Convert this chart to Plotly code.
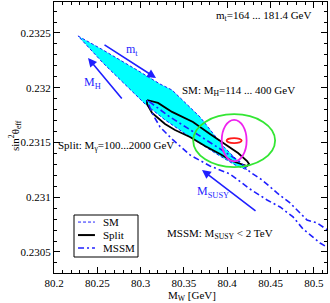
import plotly.graph_objects as go

# ---- data (M_W [GeV], sin^2 theta_eff) ----
sm_mw = [80.2277, 80.2566, 80.2958, 80.3224, 80.3363, 80.3686, 80.3952, 80.4148, 80.4229,
         80.4090, 80.3859, 80.3570, 80.3282, 80.3051, 80.2762, 80.2566, 80.2277]
sm_sw = [0.232473, 0.232345, 0.232162, 0.232034, 0.231979, 0.231733, 0.231468, 0.231313, 0.231249,
         0.231295, 0.231404, 0.231550, 0.231706, 0.231852, 0.232071, 0.232226, 0.232473]

split_mw = [80.3074, 80.3201, 80.3363, 80.3605, 80.3801, 80.3940, 80.4125, 80.4229, 80.4252,
            80.4229, 80.4055, 80.3917, 80.3744, 80.3570, 80.3397, 80.3282, 80.3132, 80.3074, 80.3074]
split_sw = [0.231888, 0.231861, 0.231779, 0.231687, 0.231578, 0.231505, 0.231404, 0.231331, 0.231304,
            0.231285, 0.231331, 0.231395, 0.231468, 0.231550, 0.231614, 0.231669, 0.231769, 0.231852, 0.231888]

mssm_mw = [80.5245, 80.5152, 80.5037, 80.4921, 80.4841, 80.4725, 80.4575, 80.4402, 80.4263, 80.4148,
           80.3975, 80.3686, 80.3339, 80.3074,
           80.3132, 80.3224, 80.3374, 80.3570, 80.3801, 80.4032, 80.4263, 80.4460, 80.4610, 80.4760,
           80.4875, 80.5072, 80.5245]
mssm_sw = [0.230655, 0.230701, 0.230765, 0.230792, 0.230856, 0.230948, 0.231039, 0.231158, 0.231231, 0.231322,
           0.231413, 0.231559, 0.231733, 0.231888,
           0.231769, 0.231642, 0.231523, 0.231386, 0.231285, 0.231212, 0.231075, 0.230975, 0.230911, 0.230820,
           0.230710, 0.230582, 0.230500]

# experimental ellipses: centre and half-axes
exp_center = (80.408, 0.231517)
ellipses = [  # (dMW, dsw, colour)
    (0.0473, 0.000242, "#33e633"),
    (0.0144, 0.000190, "#ee22ee"),
    (0.0087, 0.000023, "#ff1a1a"),
]

# arrows: (x_tail, y_tail, x_head, y_head)
arrows = [
    (80.2566, 0.232400, 80.3178, 0.232089),   # m_t
    (80.2797, 0.231888, 80.2393, 0.232272),   # M_H
    (80.4344, 0.230865, 80.3709, 0.231249),   # M_SUSY
]

BLUE = "#1f1fff"
FONT = "Liberation Serif, Times New Roman, serif"

fig = go.Figure()

fig.add_trace(go.Scatter(x=sm_mw, y=sm_sw, mode="lines", fill="toself",
                         fillcolor="#00ffff", line=dict(color=BLUE, width=1, dash="3px,2px"),
                         showlegend=False, hoverinfo="skip"))
fig.add_trace(go.Scatter(x=split_mw, y=split_sw, mode="lines",
                         line=dict(color="black", width=1.8), showlegend=False))
fig.add_trace(go.Scatter(x=mssm_mw, y=mssm_sw, mode="lines",
                         line=dict(color=BLUE, width=1.6, dash="6px,3px,2px,3px"), showlegend=False))

shapes = []
for dx, dy, col in ellipses:
    shapes.append(dict(type="circle", xref="x", yref="y",
                       x0=exp_center[0] - dx, x1=exp_center[0] + dx,
                       y0=exp_center[1] - dy, y1=exp_center[1] + dy,
                       line=dict(color=col, width=1.8)))

annotations = []
for xt, yt, xh, yh in arrows:
    annotations.append(dict(x=xh, y=yh, ax=xt, ay=yt, xref="x", yref="y", axref="x", ayref="y",
                            showarrow=True, arrowhead=2, arrowsize=1.1, arrowwidth=1.6,
                            arrowcolor=BLUE, text=""))

def txt(x, y, s, anchor="left", color="black", size=11, xref="x", yref="y", angle=0):
    annotations.append(dict(x=x, y=y, xref=xref, yref=yref, text=s, showarrow=False,
                            xanchor=anchor, yanchor="middle", textangle=angle,
                            font=dict(family=FONT, size=size, color=color)))

txt(80.2901, 0.232345, "m<sub>t</sub>", "center", BLUE, 12)
txt(80.2450, 0.232043, "M<sub>H</sub>", "center", BLUE, 12)
txt(80.3836, 0.231048, "M<sub>SUSY</sub>", "center", BLUE, 12)
txt(80.4990, 0.232655, "m<sub>t</sub>=164 ... 181.4 GeV", "right")
txt(80.3455, 0.231970, "SM: M<sub>H</sub>=114 ... 400 GeV", "left")
txt(80.2020, 0.231468, "Split: M<sub>γ</sub>=100...2000 GeV", "left")
txt(80.3282, 0.230664, "MSSM: M<sub>SUSY</sub> &lt; 2 TeV", "left")

# axis titles
txt(0.505, -0.086, "M<sub>W</sub> [GeV]", "center", xref="paper", yref="paper")
txt(-0.143, 0.509, "sin<sup>2</sup>θ<sub>eff</sub>", "center", xref="paper", yref="paper", angle=-90)

# manual legend (paper coordinates)
shapes.append(dict(type="rect", xref="paper", yref="paper", x0=0.0733, x1=0.3077, y0=0.059, y1=0.214,
                   line=dict(color="black", width=1), fillcolor="white", layer="above"))
leg = [("SM", BLUE, 1, "3px,2px", 0.188), ("Split", "black", 2, "solid", 0.140),
       ("MSSM", BLUE, 1.6, "6px,3px,2px,3px", 0.092)]
for name, col, w, dash, yy in leg:
    shapes.append(dict(type="line", xref="paper", yref="paper", x0=0.088, x1=0.150, y0=yy, y1=yy,
                       line=dict(color=col, width=w, dash=dash), layer="above"))
    annotations.append(dict(x=0.172, y=yy, xref="paper", yref="paper", text=name, showarrow=False,
                            xanchor="left", yanchor="middle", font=dict(family=FONT, size=11, color="black")))

axis_common = dict(showline=True, linecolor="black", linewidth=1, mirror="ticks", ticks="inside",
                   ticklen=6, tickwidth=1, tickcolor="black", showgrid=False, zeroline=False,
                   tickfont=dict(family=FONT, size=11, color="black"))

fig.update_layout(
    width=330, height=303, margin=dict(l=54, r=3, t=2, b=30),
    paper_bgcolor="white", plot_bgcolor="white", showlegend=False,
    shapes=shapes, annotations=annotations,
    xaxis=dict(range=[80.2, 80.5152], dtick=0.05, tick0=80.2,
               minor=dict(dtick=0.01, ticklen=3, ticks="inside", tickcolor="black", showgrid=False),
               **axis_common),
    yaxis=dict(range=[0.230308, 0.232783], dtick=0.0005, tick0=0.2305,
               minor=dict(dtick=0.0001, ticklen=3, ticks="inside", tickcolor="black", showgrid=False),
               **axis_common),
)

fig.write_html("out.html", config={"displayModeBar": False},
               post_script="document.body.style.margin='0';document.body.style.overflow='hidden';")
